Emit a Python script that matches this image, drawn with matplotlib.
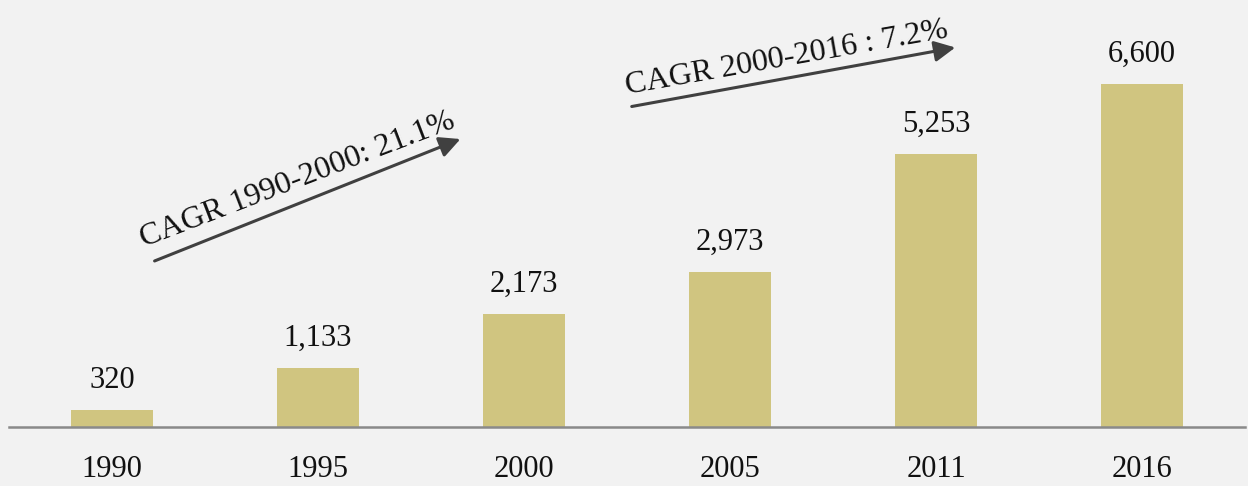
import matplotlib
matplotlib.use("Agg")
import matplotlib.pyplot as plt

years = ["1990", "1995", "2000", "2005", "2011", "2016"]
values = [320, 1133, 2173, 2973, 5253, 6600]
cagr_labels = ["CAGR 1990-2000: 21.1%", "CAGR 2000-2016 : 7.2%"]

plt.rcParams['font.family'] = ['Liberation Serif', 'DejaVu Serif']

W, H = 1248, 486
fig = plt.figure(figsize=(W/100, H/100), dpi=100, facecolor='#f2f2f2')
ax = fig.add_axes([9/W, 59/H, 1236/W, 427/H])
ax.set_facecolor('#f2f2f2')

x = list(range(len(years)))
bars = ax.bar(x, values, width=0.4, color='#d0c580', zorder=2)
ax.set_xlim(-0.5, len(years) - 0.5)
ax.set_ylim(0, 8216)

for xi, v in zip(x, values):
    ax.annotate(f"{v:,}", (xi, v), xytext=(0, 16), textcoords='offset points',
                ha='center', va='baseline', fontsize=22, color='#111111')

for s in ['top', 'right', 'left']:
    ax.spines[s].set_visible(False)
ax.spines['bottom'].set_color('#8a8a8a')
ax.spines['bottom'].set_linewidth(1.8)
ax.set_yticks([])
ax.set_xticks(x)
ax.set_xticklabels(years, fontsize=22, color='#111111')
ax.tick_params(axis='x', length=0, pad=20)

def fp(px, py):
    return (px / W, 1 - py / H)

arrow_kw = dict(arrowstyle='-|>,head_length=0.9,head_width=0.45', color='#404040', lw=2.2)
fig.add_artist(matplotlib.patches.FancyArrowPatch(fp(152, 262), fp(463, 138),
               transform=fig.transFigure, mutation_scale=14, **arrow_kw))
fig.add_artist(matplotlib.patches.FancyArrowPatch(fp(629, 107), fp(958, 47),
               transform=fig.transFigure, mutation_scale=14, **arrow_kw))

fig.text(*fp(298, 180), cagr_labels[0], rotation=21, rotation_mode='anchor',
         ha='center', va='center', fontsize=23, color='#111111')
fig.text(*fp(787, 58), cagr_labels[1], rotation=10, rotation_mode='anchor',
         ha='center', va='center', fontsize=23, color='#111111')

fig.savefig('out.png', dpi=100, facecolor='#f2f2f2')
